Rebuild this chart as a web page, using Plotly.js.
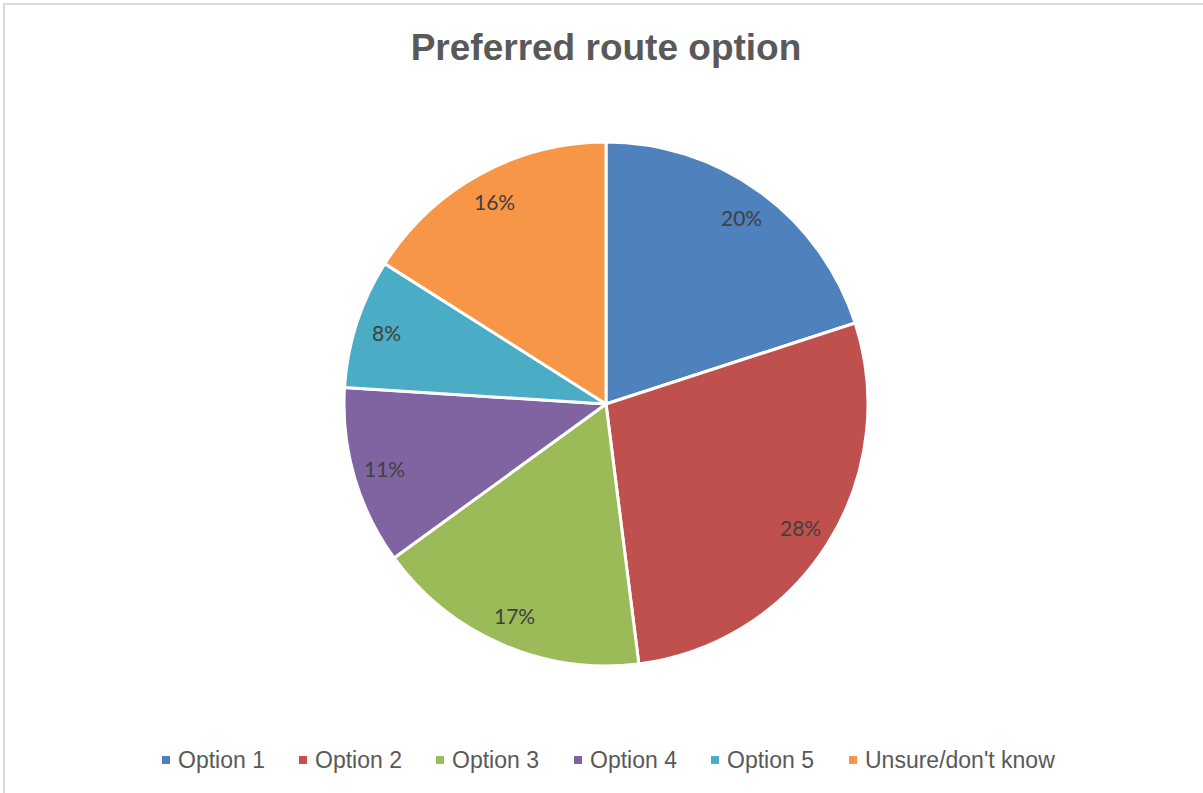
<!DOCTYPE html>
<html>
<head>
<meta charset="utf-8">
<script src="https://cdn.plot.ly/plotly-3.0.1.min.js"></script>
<style>
html,body{margin:0;padding:0;background:#fff;overflow:hidden;}
#wrap{position:relative;width:1203px;height:793px;overflow:hidden;}
#chart{width:1203px;height:793px;}
#frame{position:absolute;left:3px;top:3px;width:1400px;height:1000px;border:2px solid #D9D9D9;pointer-events:none;}
</style>
</head>
<body>
<div id="wrap"><div id="chart"></div><div id="frame"></div></div>
<script>
// ---- data ----
var categories = ["Option 1", "Option 2", "Option 3", "Option 4", "Option 5", "Unsure/don't know"];
var values = [20, 28, 17, 11, 8, 16];
var colors = ["#4F81BD", "#C0504D", "#9BBB59", "#8064A2", "#4BACC6", "#F79646"];
var chartTitle = "Preferred route option";

// ---- layout constants ----
var W = 1203, H = 793;
var cx = 606, cy = 404, R = 262;          // pie centre/radius in pixels (from top-left)
var labelFrac = 0.88;                     // radial position of data labels
var legendSquareCenters = [166, 303, 440, 578, 715, 853];
var legendY = 760;

var total = values.reduce(function(a,b){return a+b;}, 0);

var trace = {
  type: 'pie',
  labels: categories,
  values: values,
  sort: false,
  direction: 'clockwise',
  rotation: 0,
  textinfo: 'none',
  hoverinfo: 'label+percent',
  marker: {colors: colors, line: {color: '#FFFFFF', width: 3}},
  domain: {x: [(cx - R) / W, (cx + R) / W], y: [(H - cy - R) / H, (H - cy + R) / H]},
  showlegend: false
};

var annotations = [];
var shapes = [];
// data labels placed along each slice's mid-angle
var cum = 0;
values.forEach(function(v, i){
  var mid = (cum + v / 2) / total * 2 * Math.PI;
  cum += v;
  var px = cx + labelFrac * R * Math.sin(mid);
  var py = cy - labelFrac * R * Math.cos(mid);
  annotations.push({
    xref: 'paper', yref: 'paper', x: px / W, y: 1 - py / H,
    xanchor: 'center', yanchor: 'middle', showarrow: false,
    text: Math.round(v / total * 100) + '%',
    font: {family: 'Lato, "Open Sans", sans-serif', size: 21, color: '#404040'}
  });
});
// legend
categories.forEach(function(c, i){
  var sc = legendSquareCenters[i];
  shapes.push({
    type: 'rect', xref: 'paper', yref: 'paper',
    x0: (sc - 4) / W, x1: (sc + 4) / W,
    y0: 1 - (legendY + 4) / H, y1: 1 - (legendY - 4) / H,
    fillcolor: colors[i], line: {width: 0}
  });
  annotations.push({
    xref: 'paper', yref: 'paper', x: (sc + 10) / W, y: 1 - legendY / H,
    xanchor: 'left', yanchor: 'middle', showarrow: false,
    text: c,
    font: {family: '"Liberation Sans", Arial, sans-serif', size: 23, color: '#595959'}
  });
});

var layout = {
  width: W, height: H,
  margin: {l: 0, r: 0, t: 0, b: 0},
  paper_bgcolor: '#FFFFFF',
  title: {
    text: '<b>' + chartTitle + '</b>',
    font: {family: '"Liberation Sans", Arial, sans-serif', size: 37, color: '#595959'},
    x: 606 / W, xanchor: 'center', xref: 'paper',
    y: 1 - 47 / H, yanchor: 'middle', yref: 'paper'
  },
  showlegend: false,
  annotations: annotations,
  shapes: shapes
};

Plotly.newPlot('chart', [trace], layout, {displayModeBar: false, staticPlot: true});
</script>
</body>
</html>
